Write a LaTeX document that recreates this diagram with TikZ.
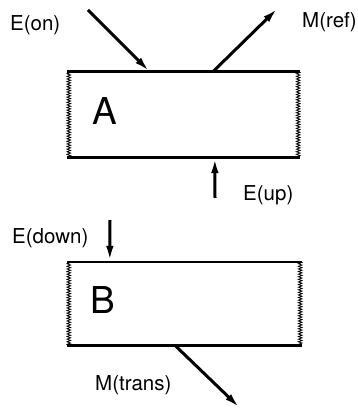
\documentclass[tikz,border=0pt]{standalone}
\usepackage{fontspec}
\setmainfont{TeX Gyre Heros}
\usetikzlibrary{positioning,arrows.meta,decorations.pathmorphing}

\begin{document}
\begin{tikzpicture}[x=1pt,y=-1pt,
    slab/.style={inner sep=0pt,minimum width=233pt,minimum height=85pt},
    face/.style={line width=2.6pt},
    wavy/.style={line width=0.8pt,decorate,decoration={zigzag,segment length=2.6pt,amplitude=1.8pt}},
    ray/.style={-{Latex[length=16pt,width=7.5pt]},line width=3pt},
    lab/.style={font=\fontsize{20.5}{20.5}\selectfont,inner sep=0pt,anchor=base west},
    big/.style={font=\fontsize{37}{37}\selectfont,inner sep=0pt,anchor=west}]
    \useasboundingbox (0,0) rectangle (357,409);
    % the two layers
    \node[slab] (boxA) at (183.5,114.5) {};
    \node[slab,minimum width=235pt,minimum height=83pt] (boxB) at (184.5,303.5) {};
    \foreach \b in {boxA,boxB} {
      \draw[face] (\b.north west) -- (\b.north east);
      \draw[face] (\b.south west) -- (\b.south east);
      \draw[wavy] ([xshift=2pt]\b.north west) -- ([xshift=2pt]\b.south west);
      \draw[wavy] ([xshift=-2pt]\b.north east) -- ([xshift=-2pt]\b.south east);
    }
    \node[big] (labA) at ([xshift=25pt,yshift=3pt]boxA.west) {A};
    \node[big] (labB) at ([xshift=23pt,yshift=3pt]boxB.west) {B};
    % free ends of the rays
    \coordinate (eon) at (88,10);
    \coordinate (mref) at (278,8);
    \coordinate (eup) at (215,198);
    \coordinate (edown) at (110,220);
    \coordinate (mtrans) at (240,408);
    \draw[ray] (eon) -- ([xshift=83pt]boxA.north west);
    \draw[ray] ([xshift=146pt]boxA.north west) -- (mref);
    \draw[ray] (eup) -- ([xshift=148pt]boxA.south west);
    \draw[ray] (edown) -- ([xshift=43pt]boxB.north west);
    \draw[ray] ([xshift=108pt]boxB.south west) -- (mtrans);
    % labels
    \node[lab] (lon) at (10,31) {E(on)};
    \node[lab] (lref) at (302,28) {M(ref)};
    \node[lab] (lup) at (243,200) {E(up)};
    \node[lab] (ldown) at (12,243) {E(down)};
    \node[lab] (ltrans) at (95,390) {M(trans)};
\end{tikzpicture}
\end{document}
